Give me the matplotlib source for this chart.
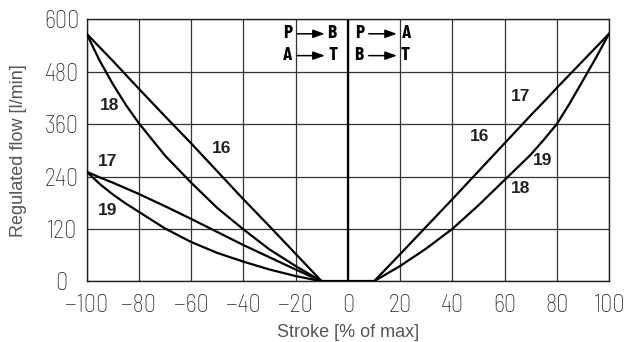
import numpy as np
import matplotlib.pyplot as plt

# stroke (% of max) and regulated flow (l/min)
x_left = [-100, -95, -90, -85, -80, -70, -60, -50, -40, -30, -20, -10]
c16_left = [567, 536, 505, 473, 441, 378, 316, 252, 188, 126, 63, 0]
c18_left = [567, 505, 452, 404, 362, 288, 226, 168, 119, 73, 35, 0]
c17_left = [251, 238, 226, 213, 200, 172, 143, 113, 83, 55, 27, 0]
c19_left = [251, 223, 199, 178, 159, 121, 90, 65, 45, 27, 12, 0]

x_right = [10, 20, 30, 40, 50, 60, 70, 75, 80, 85, 90, 95, 100]
c16_right = [0, 62, 125, 188, 252, 316, 380, 411, 443, 474, 505, 536, 567]
c18_right = [0, 35, 75, 120, 174, 232, 290, 324, 360, 408, 460, 512, 567]

x_ticks = [-100, -80, -60, -40, -20, 0, 20, 40, 60, 80, 100]
y_ticks = [0, 120, 240, 360, 480, 600]

# curve labels: (text, x, y)
curve_labels = [('18', -91.4, 403), ('17', -92, 274), ('19', -92, 163),
                ('16', -48.4, 305), ('17', 66.3, 423), ('16', 50.4, 332),
                ('19', 74.4, 276), ('18', 66.3, 212)]

# flow direction header: (from, x, to, x, arrow start, arrow end, y)
header = [('P', -23.0, 'B', -6.0, -19.4, -8.8, 567),
          ('A', -23.0, 'T', -5.6, -19.4, -8.8, 517),
          ('P', 4.4, 'A', 22.3, 8.0, 18.8, 567),
          ('B', 4.1, 'T', 22.0, 8.0, 18.8, 517)]

din = ['Barlow Semi Condensed', 'Barlow', 'DejaVu Sans']
narrow = ['Barlow Condensed', 'Roboto Condensed', 'Archivo Narrow', 'DejaVu Sans']
plain = ['Liberation Sans', 'Arimo', 'DejaVu Sans']

fig = plt.figure(figsize=(6.25, 3.42), dpi=100)
ax = fig.add_axes([0.1387, 0.1775, 0.8357, 0.7658])

for xs, ys in [(x_left, c16_left), (x_left, c18_left), (x_left, c17_left),
               (x_left, c19_left), (x_right, c16_right), (x_right, c18_right)]:
    ax.plot(xs, ys, color='black', lw=1.6, solid_joinstyle='round', zorder=3)
ax.plot([-10, 10], [0, 0], color='black', lw=1.6, zorder=3)

ax.set_xlim(-100, 100)
ax.set_ylim(0, 600)
ax.set_xticks(x_ticks)
ax.set_yticks(y_ticks)
ax.set_xticklabels([str(v).replace('-', '\u2212') for v in x_ticks])
ax.grid(True, color='#333333', lw=0.9)
ax.set_axisbelow(True)
ax.axvline(0, color='black', lw=1.6, zorder=2)
ax.tick_params(length=0, labelsize=17.5, colors='#222222')
ax.tick_params(axis='x', pad=9.5)
ax.tick_params(axis='y', pad=18)
for lab in ax.get_xticklabels() + ax.get_yticklabels():
    lab.set_family(din)
    lab.set_fontweight('light')
for lab in ax.get_yticklabels():
    lab.set_horizontalalignment('center')
for sp in ax.spines.values():
    sp.set_color('#222222')
    sp.set_linewidth(1.0)

ax.set_xlabel('Stroke [% of max]', family=plain, fontsize=13, color='#555555', va='center')
ax.set_ylabel('Regulated flow [l/min]', family=plain, fontsize=13, color='#555555', va='center')
ax.xaxis.set_label_coords(0.5, -0.194)
ax.yaxis.set_label_coords(-0.131, 0.5)

for txt, x, y in curve_labels:
    ax.text(x, y, txt, family=plain, fontsize=12.5, fontweight='bold', color='#222222',
            ha='center', va='center', zorder=4)

arrow = dict(arrowstyle='-|>,head_length=0.7,head_width=0.25', color='black', lw=1.1,
             mutation_scale=10, shrinkA=0, shrinkB=0)
for t1, x1, t2, x2, a1, a2, y in header:
    ax.text(x1, y, t1, family=narrow, fontsize=14, fontweight='bold', ha='center', va='center')
    ax.text(x2, y, t2, family=narrow, fontsize=14, fontweight='bold', ha='center', va='center')
    ax.annotate('', xy=(a2, y), xytext=(a1, y), arrowprops=arrow)

fig.savefig('out.png', dpi=100)
